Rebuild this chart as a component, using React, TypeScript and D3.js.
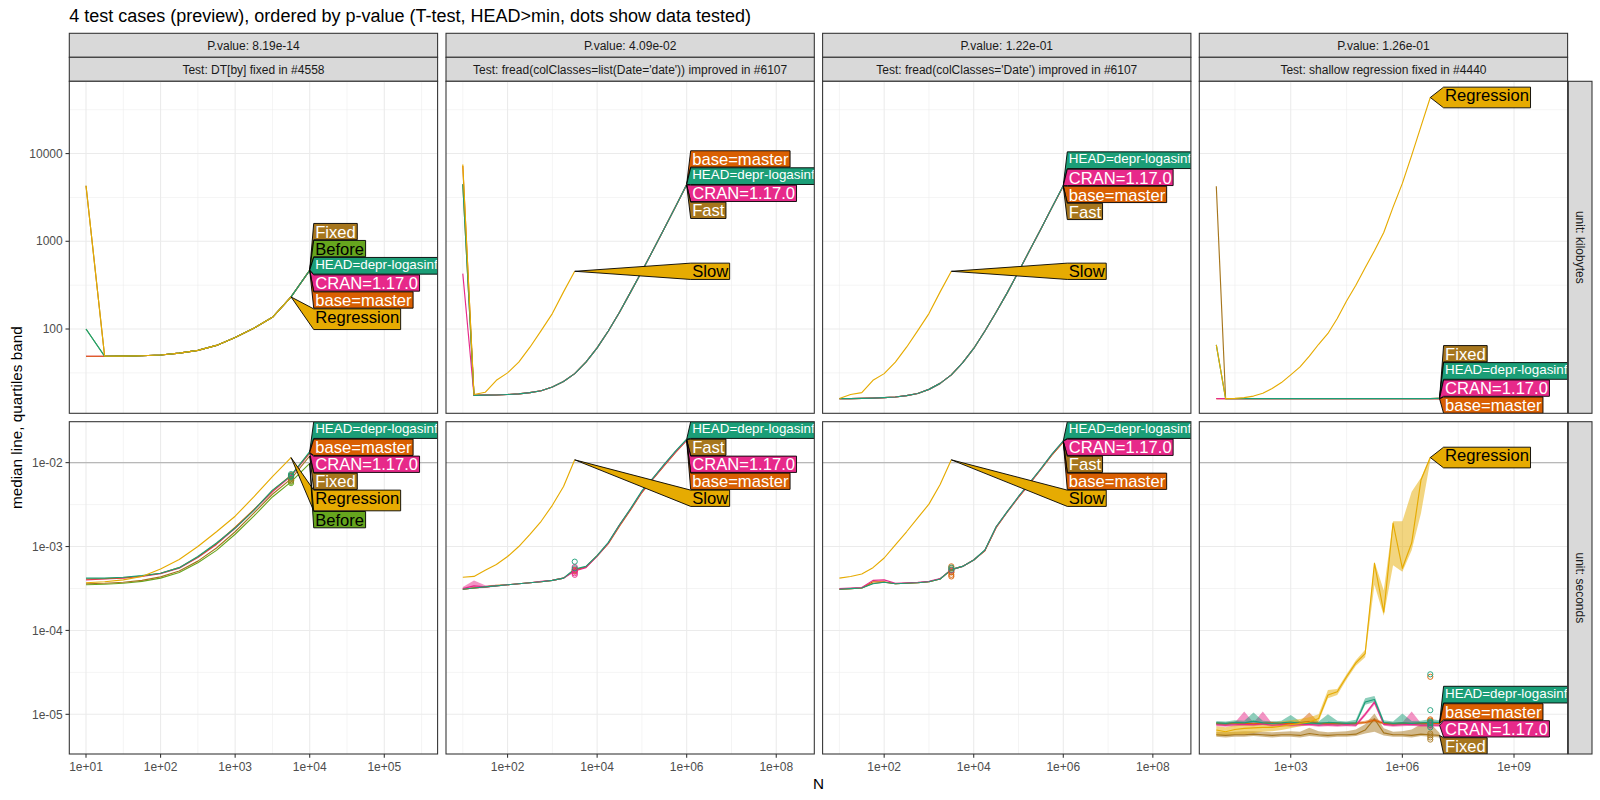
import React, { useMemo } from "react";
import * as d3 from "d3";

const FONT = '"Liberation Sans", Arial, Helvetica, sans-serif';

// ---------- texts / categories ----------
const TITLE = "4 test cases (preview), ordered by p-value (T-test, HEAD>min, dots show data tested)";
const P_VALUES = ["P.value: 8.19e-14", "P.value: 4.09e-02", "P.value: 1.22e-01", "P.value: 1.26e-01"];
const TEST_NAMES = [
  "Test: DT[by] fixed in #4558",
  "Test: fread(colClasses=list(Date='date')) improved in #6107",
  "Test: fread(colClasses='Date') improved in #6107",
  "Test: shallow regression fixed in #4440",
];
const UNITS = ["unit: kilobytes", "unit: seconds"];
const X_LABEL = "N";
const Y_LABEL = "median line, quartiles band";

const LBL_HEAD = "HEAD=depr-logasinf";
const LBL_BASE = "base=master";
const LBL_CRAN = "CRAN=1.17.0";
const LBL_BEFORE = "Before";
const LBL_REGRESSION = "Regression";
const LBL_FIXED = "Fixed";
const LBL_SLOW = "Slow";
const LBL_FAST = "Fast";

const SERIES_COLORS: Record<string, string> = {
  [LBL_HEAD]: "#1B9E77",
  [LBL_BASE]: "#D95F02",
  [LBL_CRAN]: "#E7298A",
  [LBL_BEFORE]: "#66A61E",
  [LBL_REGRESSION]: "#E6AB02",
  [LBL_SLOW]: "#E6AB02",
  [LBL_FIXED]: "#A6761D",
  [LBL_FAST]: "#A6761D",
};
const LABEL_TEXT_COLORS: Record<string, string> = {
  [LBL_HEAD]: "#FFFFFF",
  [LBL_BASE]: "#FFFFFF",
  [LBL_CRAN]: "#FFFFFF",
  [LBL_BEFORE]: "#000000",
  [LBL_REGRESSION]: "#000000",
  [LBL_SLOW]: "#000000",
  [LBL_FIXED]: "#FFFFFF",
  [LBL_FAST]: "#FFFFFF",
};

// ---------- ticks ----------
const X_TICKS = [
  [1e1, 1e2, 1e3, 1e4, 1e5],
  [1e2, 1e4, 1e6, 1e8],
  [1e2, 1e4, 1e6, 1e8],
  [1e3, 1e6, 1e9],
];
const X_TICK_LABELS = [
  ["1e+01", "1e+02", "1e+03", "1e+04", "1e+05"],
  ["1e+02", "1e+04", "1e+06", "1e+08"],
  ["1e+02", "1e+04", "1e+06", "1e+08"],
  ["1e+03", "1e+06", "1e+09"],
];
const Y_TICKS = [
  [100, 1000, 10000],
  [1e-5, 1e-4, 1e-3, 1e-2],
];
const Y_TICK_LABELS = [
  ["100", "1000", "10000"],
  ["1e-05", "1e-04", "1e-03", "1e-02"],
];
const SECONDS_LIMIT = 0.01;

// ---------- data: N grid ----------
const N_VALUES = [
  10, 17.78, 31.62, 56.23, 100, 177.8, 316.2, 562.3, 1000, 1778, 3162, 5623, 10000, 17780, 31620, 56230,
  100000, 177800, 316200, 562300, 1000000, 1778000, 3162000, 5623000, 10000000,
];

// ---------- panel 1 : DT[by] ----------
const P1_KB_CRAN = [48.9, 48.9, 49.0, 49.6, 50.5, 53, 57, 65, 80, 102, 136, 232, 467.0];
const P1_KB_BASE = [48.9, 48.9, 49.0, 49.6, 50.5, 53, 57, 65, 80, 102, 136, 232, 466.5];
const P1_KB_BEFORE = [100, 48.9, 49.0, 49.6, 50.5, 53, 57, 65, 80, 102, 136, 232, 468.0];
const P1_KB_FIXED = [4300, 48.9, 49.0, 49.6, 50.5, 53, 57, 65, 80, 102, 136, 232, 468.5];
const P1_KB_HEAD = [100, 48.9, 49.0, 49.6, 50.5, 53, 57, 65, 80, 102, 136, 232, 467.5];
const P1_KB_REGRESSION = [4300, 48.9, 49.0, 49.6, 50.5, 53, 57, 65, 80, 102, 136, 232];

const P1_SEC_CRAN = [4.0e-4, 4.1e-4, 4.2e-4, 4.4e-4, 4.75e-4, 5.5e-4, 7.4e-4, 1.06e-3, 1.65e-3, 2.7e-3, 4.5e-3, 6.9e-3, 1.3e-2];
const P1_SEC_BASE = [4.1e-4, 4.15e-4, 4.25e-4, 4.45e-4, 4.8e-4, 5.6e-4, 7.5e-4, 1.08e-3, 1.7e-3, 2.75e-3, 4.6e-3, 7.1e-3, 1.32e-2];
const P1_SEC_BEFORE = [3.5e-4, 3.55e-4, 3.65e-4, 3.85e-4, 4.2e-4, 4.9e-4, 6.4e-4, 9.0e-4, 1.4e-3, 2.3e-3, 3.9e-3, 5.9e-3, 9.8e-3];
const P1_SEC_FIXED = [3.6e-4, 3.65e-4, 3.75e-4, 3.95e-4, 4.35e-4, 5.1e-4, 6.7e-4, 9.6e-4, 1.5e-3, 2.5e-3, 4.2e-3, 6.4e-3, 1.2e-2];
const P1_SEC_HEAD = [4.2e-4, 4.2e-4, 4.3e-4, 4.5e-4, 4.8e-4, 5.6e-4, 7.6e-4, 1.1e-3, 1.66e-3, 2.7e-3, 4.7e-3, 7.0e-3, 1.35e-2];
const P1_SEC_REGRESSION = [3.7e-4, 3.8e-4, 4.0e-4, 4.4e-4, 5.4e-4, 7.0e-4, 1.0e-3, 1.5e-3, 2.3e-3, 3.9e-3, 6.8e-3, 1.15e-2];

const P1_DOTS_CRAN = [6.9e-3, 6.6e-3];
const P1_DOTS_BASE = [7.1e-3, 6.9e-3];
const P1_DOTS_BEFORE = [6.1e-3, 5.9e-3, 5.7e-3];
const P1_DOTS_FIXED = [6.4e-3, 6.1e-3];
const P1_DOTS_HEAD = [7.3e-3, 7.0e-3, 6.8e-3];

// ---------- panel 2 : fread list(Date='date') ----------
const P2_KB_FAST = [4470, 17.5, 17.6, 17.7, 17.9, 18.2, 18.8, 19.8, 21.8, 25.2, 31, 42, 61, 95, 155, 265, 455, 795, 1400, 2480, 4360];
const P2_KB_BASE = [7200, 17.5, 17.6, 17.7, 17.9, 18.2, 18.8, 19.8, 21.8, 25.2, 31, 42, 61, 95, 155, 265, 455, 795, 1400, 2480, 4480];
const P2_KB_CRAN = [428, 17.5, 17.6, 17.7, 17.9, 18.2, 18.8, 19.8, 21.8, 25.2, 31, 42, 61, 95, 155, 265, 455, 795, 1400, 2480, 4400];
const P2_KB_HEAD = [4470, 17.5, 17.6, 17.7, 17.9, 18.2, 18.8, 19.8, 21.8, 25.2, 31, 42, 61, 95, 155, 265, 455, 795, 1400, 2480, 4440];
const P2_KB_SLOW = [7500, 17.9, 19, 26, 31.6, 42, 62, 96, 150, 265, 455];

const P2_SEC_FAST = [3.1e-4, 3.2e-4, 3.3e-4, 3.4e-4, 3.5e-4, 3.6e-4, 3.7e-4, 3.8e-4, 3.95e-4, 4.2e-4, 5.3e-4, 5.7e-4, 7.8e-4, 1.1e-3, 1.8e-3, 2.8e-3, 4.5e-3, 6.5e-3, 9.4e-3, 1.35e-2, 1.88e-2];
const P2_SEC_BASE = [3.1e-4, 3.2e-4, 3.3e-4, 3.45e-4, 3.5e-4, 3.6e-4, 3.7e-4, 3.8e-4, 3.95e-4, 4.2e-4, 5.2e-4, 5.7e-4, 7.7e-4, 1.08e-3, 1.75e-3, 2.75e-3, 4.4e-3, 6.4e-3, 9.2e-3, 1.32e-2, 1.84e-2];
const P2_SEC_CRAN = [3.15e-4, 3.4e-4, 3.3e-4, 3.4e-4, 3.5e-4, 3.6e-4, 3.7e-4, 3.85e-4, 3.95e-4, 4.2e-4, 5.1e-4, 5.6e-4, 7.7e-4, 1.1e-3, 1.8e-3, 2.8e-3, 4.5e-3, 6.5e-3, 9.4e-3, 1.34e-2, 1.86e-2];
const P2_SEC_HEAD = [3.1e-4, 3.2e-4, 3.3e-4, 3.4e-4, 3.5e-4, 3.6e-4, 3.7e-4, 3.8e-4, 3.95e-4, 4.2e-4, 5.4e-4, 5.8e-4, 7.8e-4, 1.12e-3, 1.82e-3, 2.85e-3, 4.6e-3, 6.6e-3, 9.6e-3, 1.37e-2, 1.9e-2];
const P2_SEC_SLOW = [4.3e-4, 4.4e-4, 5.2e-4, 6.1e-4, 7.6e-4, 1.0e-3, 1.4e-3, 2.0e-3, 3.1e-3, 5.2e-3, 1.08e-2];
const P2_SEC_CRAN_LO = [3.05e-4, 3.15e-4, 3.2e-4, 3.35e-4];
const P2_SEC_CRAN_HI = [3.3e-4, 3.95e-4, 3.45e-4, 3.5e-4];

const P2_DOTS_FAST = [5.2e-4];
const P2_DOTS_BASE = [5.3e-4, 5.1e-4];
const P2_DOTS_CRAN = [5.7e-4, 5.3e-4, 5.0e-4, 4.8e-4, 4.6e-4];
const P2_DOTS_HEAD = [6.6e-4, 5.5e-4];

// ---------- panel 3 : fread colClasses='Date' ----------
const P3_KB_FAST = [16.1, 16.1, 16.2, 16.3, 16.5, 16.8, 17.4, 18.4, 20.5, 24, 30, 41, 60, 95, 155, 260, 450, 790, 1380, 2450, 4240];
const P3_KB_BASE = [16.1, 16.1, 16.2, 16.3, 16.5, 16.8, 17.4, 18.4, 20.5, 24, 30, 41, 60, 95, 155, 260, 450, 790, 1380, 2450, 4270];
const P3_KB_CRAN = [16.1, 16.1, 16.2, 16.3, 16.5, 16.8, 17.4, 18.4, 20.5, 24, 30, 41, 60, 95, 155, 260, 450, 790, 1380, 2450, 4300];
const P3_KB_HEAD = [16.1, 16.1, 16.2, 16.3, 16.5, 16.8, 17.4, 18.4, 20.5, 24, 30, 41, 60, 95, 155, 260, 450, 790, 1380, 2450, 4330];
const P3_KB_SLOW = [16.1, 17.9, 18.8, 26, 31, 42, 62, 96, 150, 265, 455];

const P3_SEC_FAST = [3.1e-4, 3.15e-4, 3.2e-4, 3.65e-4, 3.75e-4, 3.6e-4, 3.65e-4, 3.7e-4, 3.8e-4, 4.1e-4, 5.3e-4, 5.8e-4, 6.9e-4, 9.0e-4, 1.7e-3, 2.6e-3, 3.9e-3, 5.7e-3, 8.4e-3, 1.25e-2, 1.78e-2];
const P3_SEC_BASE = [3.1e-4, 3.15e-4, 3.2e-4, 3.8e-4, 3.8e-4, 3.6e-4, 3.65e-4, 3.7e-4, 3.8e-4, 4.1e-4, 5.3e-4, 5.8e-4, 6.9e-4, 8.9e-4, 1.68e-3, 2.58e-3, 3.85e-3, 5.6e-3, 8.3e-3, 1.24e-2, 1.76e-2];
const P3_SEC_CRAN = [3.15e-4, 3.2e-4, 3.25e-4, 3.95e-4, 4.0e-4, 3.65e-4, 3.7e-4, 3.75e-4, 3.85e-4, 4.15e-4, 5.3e-4, 5.8e-4, 6.9e-4, 9.0e-4, 1.7e-3, 2.6e-3, 3.9e-3, 5.7e-3, 8.4e-3, 1.26e-2, 1.8e-2];
const P3_SEC_HEAD = [3.1e-4, 3.15e-4, 3.2e-4, 3.6e-4, 3.75e-4, 3.6e-4, 3.65e-4, 3.7e-4, 3.8e-4, 4.1e-4, 5.3e-4, 5.8e-4, 6.9e-4, 9.1e-4, 1.72e-3, 2.62e-3, 3.95e-3, 5.8e-3, 8.5e-3, 1.27e-2, 1.82e-2];
const P3_SEC_SLOW = [4.2e-4, 4.4e-4, 4.7e-4, 5.6e-4, 7.3e-4, 1.05e-3, 1.5e-3, 2.2e-3, 3.2e-3, 5.5e-3, 1.08e-2];

const P3_DOTS_FAST = [5.0e-4];
const P3_DOTS_BASE = [5.8e-4, 5.5e-4, 5.2e-4, 4.9e-4, 4.6e-4, 4.4e-4];
const P3_DOTS_CRAN = [5.2e-4];
const P3_DOTS_HEAD = [5.6e-4, 5.3e-4];

// ---------- panel 4 : shallow regression ----------
const P4_KB_FIXED = [4240, 16.1, 16.1, 16.1, 16.1, 16.1, 16.1, 16.1, 16.1, 16.1, 16.1, 16.1, 16.1, 16.1, 16.1, 16.1, 16.1, 16.1, 16.1, 16.1, 16.1, 16.1, 16.1, 16.1, 16.3];
const P4_KB_BASE = [16.1, 16.1, 16.1, 16.1, 16.1, 16.1, 16.1, 16.1, 16.1, 16.1, 16.1, 16.1, 16.1, 16.1, 16.1, 16.1, 16.1, 16.1, 16.1, 16.1, 16.1, 16.1, 16.1, 16.1, 16.0];
const P4_KB_CRAN = [16.1, 16.1, 16.1, 16.1, 16.1, 16.1, 16.1, 16.1, 16.1, 16.1, 16.1, 16.1, 16.1, 16.1, 16.1, 16.1, 16.1, 16.1, 16.1, 16.1, 16.1, 16.1, 16.1, 16.1, 16.1];
const P4_KB_HEAD = [66, 16.1, 16.1, 16.1, 16.1, 16.1, 16.1, 16.1, 16.1, 16.1, 16.1, 16.1, 16.1, 16.1, 16.1, 16.1, 16.1, 16.1, 16.1, 16.1, 16.1, 16.1, 16.1, 16.1, 16.2];
const P4_KB_REGRESSION = [66, 16.1, 16.2, 16.5, 17.2, 18.5, 21, 24.5, 30, 37, 49, 67, 89, 132, 209, 316, 500, 780, 1260, 2450, 4570, 9550, 20400, 43600];

const P4_SEC_FIXED = [5.7e-6, 5.6e-6, 5.7e-6, 5.7e-6, 5.8e-6, 5.7e-6, 5.6e-6, 5.7e-6, 5.7e-6, 5.6e-6, 5.9e-6, 5.7e-6, 5.6e-6, 5.7e-6, 5.7e-6, 5.8e-6, 6.5e-6, 8.8e-6, 6.0e-6, 5.7e-6, 5.7e-6, 5.6e-6, 5.8e-6, 5.7e-6, 5.6e-6];
const P4_SEC_FIXED_LO = [5.4e-6, 5.3e-6, 5.4e-6, 5.4e-6, 5.5e-6, 5.4e-6, 5.3e-6, 5.4e-6, 5.4e-6, 5.3e-6, 5.5e-6, 5.4e-6, 5.3e-6, 5.4e-6, 5.4e-6, 5.5e-6, 5.9e-6, 6.2e-6, 5.6e-6, 5.4e-6, 5.4e-6, 5.3e-6, 5.5e-6, 5.4e-6, 5.3e-6];
const P4_SEC_FIXED_HI = [6.2e-6, 6.1e-6, 6.2e-6, 6.3e-6, 6.3e-6, 6.2e-6, 6.1e-6, 6.2e-6, 6.3e-6, 6.2e-6, 6.9e-6, 6.3e-6, 6.1e-6, 6.2e-6, 6.3e-6, 6.6e-6, 7.6e-6, 1.02e-5, 6.8e-6, 6.2e-6, 6.3e-6, 6.6e-6, 7.6e-6, 7.8e-6, 6.0e-6];

const P4_SEC_BASE = [7.8e-6, 7.7e-6, 7.9e-6, 7.8e-6, 7.7e-6, 7.8e-6, 7.9e-6, 7.7e-6, 7.8e-6, 7.9e-6, 8.2e-6, 7.8e-6, 7.7e-6, 7.8e-6, 7.7e-6, 7.8e-6, 8.0e-6, 8.5e-6, 7.8e-6, 7.7e-6, 7.8e-6, 7.7e-6, 7.8e-6, 7.8e-6, 7.8e-6];
const P4_SEC_BASE_LO = [7.5e-6, 7.4e-6, 7.6e-6, 7.5e-6, 7.4e-6, 7.5e-6, 7.6e-6, 7.4e-6, 7.5e-6, 7.6e-6, 7.8e-6, 7.5e-6, 7.4e-6, 7.5e-6, 7.4e-6, 7.5e-6, 7.7e-6, 8.1e-6, 7.5e-6, 7.4e-6, 7.5e-6, 7.4e-6, 7.5e-6, 7.5e-6, 7.5e-6];
const P4_SEC_BASE_HI = [8.1e-6, 8.0e-6, 8.2e-6, 8.1e-6, 8.0e-6, 8.1e-6, 8.2e-6, 8.0e-6, 8.1e-6, 8.3e-6, 1.05e-5, 8.1e-6, 8.0e-6, 8.1e-6, 8.0e-6, 8.1e-6, 8.4e-6, 9.0e-6, 8.1e-6, 8.0e-6, 8.1e-6, 8.0e-6, 8.1e-6, 8.1e-6, 8.1e-6];

const P4_SEC_CRAN = [7.5e-6, 7.4e-6, 7.5e-6, 7.6e-6, 7.5e-6, 7.7e-6, 7.4e-6, 7.5e-6, 7.4e-6, 7.5e-6, 7.6e-6, 7.4e-6, 7.5e-6, 7.4e-6, 7.5e-6, 7.4e-6, 1.0e-5, 1.4e-5, 7.6e-6, 7.4e-6, 7.5e-6, 7.6e-6, 7.4e-6, 7.4e-6, 7.4e-6];
const P4_SEC_CRAN_LO = [7.2e-6, 7.1e-6, 7.2e-6, 7.3e-6, 7.2e-6, 7.4e-6, 7.1e-6, 7.2e-6, 7.1e-6, 7.2e-6, 7.3e-6, 7.1e-6, 7.2e-6, 7.1e-6, 7.2e-6, 7.1e-6, 9.5e-6, 1.3e-5, 7.3e-6, 7.1e-6, 7.2e-6, 7.3e-6, 7.1e-6, 7.1e-6, 7.1e-6];
const P4_SEC_CRAN_HI = [7.9e-6, 7.8e-6, 8.0e-6, 1.08e-5, 8.0e-6, 1.08e-5, 7.8e-6, 8.0e-6, 7.9e-6, 8.0e-6, 8.1e-6, 7.8e-6, 8.0e-6, 7.8e-6, 8.0e-6, 7.8e-6, 1.05e-5, 1.45e-5, 8.0e-6, 7.8e-6, 8.0e-6, 1.08e-5, 7.8e-6, 7.8e-6, 7.8e-6];

const P4_SEC_HEAD = [7.9e-6, 7.8e-6, 8.0e-6, 7.9e-6, 8.3e-6, 7.9e-6, 7.8e-6, 7.9e-6, 8.1e-6, 7.8e-6, 7.9e-6, 7.8e-6, 8.0e-6, 7.9e-6, 7.8e-6, 7.9e-6, 1.4e-5, 1.5e-5, 8.0e-6, 7.8e-6, 7.9e-6, 7.8e-6, 7.9e-6, 8.0e-6, 8.0e-6];
const P4_SEC_HEAD_LO = [7.5e-6, 7.4e-6, 7.6e-6, 7.5e-6, 7.8e-6, 7.5e-6, 7.4e-6, 7.5e-6, 7.7e-6, 7.4e-6, 7.5e-6, 7.4e-6, 7.6e-6, 7.5e-6, 7.4e-6, 7.5e-6, 1.3e-5, 1.4e-5, 7.6e-6, 7.4e-6, 7.5e-6, 7.4e-6, 7.5e-6, 7.6e-6, 7.6e-6];
const P4_SEC_HEAD_HI = [8.3e-6, 8.2e-6, 8.5e-6, 8.4e-6, 1.05e-5, 8.4e-6, 8.2e-6, 8.4e-6, 9.8e-6, 8.2e-6, 8.4e-6, 8.2e-6, 1.0e-5, 8.4e-6, 8.2e-6, 8.6e-6, 1.55e-5, 1.65e-5, 8.5e-6, 8.2e-6, 1.02e-5, 8.3e-6, 8.4e-6, 8.8e-6, 8.5e-6];

const P4_SEC_REGRESSION = [6.5e-6, 6.2e-6, 6.6e-6, 6.8e-6, 6.9e-6, 7.0e-6, 7.0e-6, 7.2e-6, 7.5e-6, 7.8e-6, 8.1e-6, 8.9e-6, 1.7e-5, 1.86e-5, 2.8e-5, 4.1e-5, 5.3e-5, 6.3e-4, 1.65e-4, 1.9e-3, 5.5e-4, 1.1e-3, 6.2e-3, 1.15e-2];
const P4_SEC_REGRESSION_LO = [5.6e-6, 5.5e-6, 5.7e-6, 5.8e-6, 6.0e-6, 6.2e-6, 6.3e-6, 6.5e-6, 6.8e-6, 7.2e-6, 7.5e-6, 8.2e-6, 1.55e-5, 1.7e-5, 2.6e-5, 3.8e-5, 4.8e-5, 3.5e-4, 1.5e-4, 6.0e-4, 5.0e-4, 9.0e-4, 2.5e-3, 1.05e-2];
const P4_SEC_REGRESSION_HI = [7.2e-6, 7.0e-6, 7.4e-6, 7.6e-6, 7.8e-6, 7.9e-6, 8.0e-6, 8.2e-6, 8.5e-6, 8.8e-6, 9.2e-6, 1.0e-5, 1.95e-5, 2.0e-5, 3.0e-5, 4.4e-5, 5.9e-5, 6.6e-4, 3.0e-4, 2.0e-3, 2.0e-3, 4.5e-3, 6.6e-3, 1.2e-2];

const P4_DOTS_FIXED = [5.9e-6, 5.6e-6, 5.3e-6, 5.0e-6];
const P4_DOTS_BASE = [2.8e-5, 8.7e-6, 8.4e-6, 7.9e-6];
const P4_DOTS_CRAN = [7.8e-6, 7.5e-6, 7.3e-6];
const P4_DOTS_HEAD = [3.0e-5, 1.12e-5, 8.2e-6, 7.95e-6, 7.8e-6, 7.5e-6, 7.0e-6];

// index into N_VALUES where the dots (data tested) are shown, per panel
const DOT_N_INDEX = [11, 10, 10, 23];

type Series = {
  name: string;
  kb: number[];
  sec: number[];
  lo?: number[];
  hi?: number[];
  dots?: number[];
};

// series listed in drawing order
const PANEL_SERIES: Series[][] = [
  [
    { name: LBL_CRAN, kb: P1_KB_CRAN, sec: P1_SEC_CRAN, dots: P1_DOTS_CRAN },
    { name: LBL_BASE, kb: P1_KB_BASE, sec: P1_SEC_BASE, dots: P1_DOTS_BASE },
    { name: LBL_BEFORE, kb: P1_KB_BEFORE, sec: P1_SEC_BEFORE, dots: P1_DOTS_BEFORE },
    { name: LBL_FIXED, kb: P1_KB_FIXED, sec: P1_SEC_FIXED, dots: P1_DOTS_FIXED },
    { name: LBL_HEAD, kb: P1_KB_HEAD, sec: P1_SEC_HEAD, dots: P1_DOTS_HEAD },
    { name: LBL_REGRESSION, kb: P1_KB_REGRESSION, sec: P1_SEC_REGRESSION },
  ],
  [
    { name: LBL_FAST, kb: P2_KB_FAST, sec: P2_SEC_FAST, dots: P2_DOTS_FAST },
    { name: LBL_BASE, kb: P2_KB_BASE, sec: P2_SEC_BASE, dots: P2_DOTS_BASE },
    { name: LBL_CRAN, kb: P2_KB_CRAN, sec: P2_SEC_CRAN, lo: P2_SEC_CRAN_LO, hi: P2_SEC_CRAN_HI, dots: P2_DOTS_CRAN },
    { name: LBL_HEAD, kb: P2_KB_HEAD, sec: P2_SEC_HEAD, dots: P2_DOTS_HEAD },
    { name: LBL_SLOW, kb: P2_KB_SLOW, sec: P2_SEC_SLOW },
  ],
  [
    { name: LBL_FAST, kb: P3_KB_FAST, sec: P3_SEC_FAST, dots: P3_DOTS_FAST },
    { name: LBL_BASE, kb: P3_KB_BASE, sec: P3_SEC_BASE, dots: P3_DOTS_BASE },
    { name: LBL_CRAN, kb: P3_KB_CRAN, sec: P3_SEC_CRAN, dots: P3_DOTS_CRAN },
    { name: LBL_HEAD, kb: P3_KB_HEAD, sec: P3_SEC_HEAD, dots: P3_DOTS_HEAD },
    { name: LBL_SLOW, kb: P3_KB_SLOW, sec: P3_SEC_SLOW },
  ],
  [
    { name: LBL_FIXED, kb: P4_KB_FIXED, sec: P4_SEC_FIXED, lo: P4_SEC_FIXED_LO, hi: P4_SEC_FIXED_HI, dots: P4_DOTS_FIXED },
    { name: LBL_BASE, kb: P4_KB_BASE, sec: P4_SEC_BASE, lo: P4_SEC_BASE_LO, hi: P4_SEC_BASE_HI, dots: P4_DOTS_BASE },
    { name: LBL_CRAN, kb: P4_KB_CRAN, sec: P4_SEC_CRAN, lo: P4_SEC_CRAN_LO, hi: P4_SEC_CRAN_HI, dots: P4_DOTS_CRAN },
    { name: LBL_HEAD, kb: P4_KB_HEAD, sec: P4_SEC_HEAD, lo: P4_SEC_HEAD_LO, hi: P4_SEC_HEAD_HI, dots: P4_DOTS_HEAD },
    { name: LBL_REGRESSION, kb: P4_KB_REGRESSION, sec: P4_SEC_REGRESSION, lo: P4_SEC_REGRESSION_LO, hi: P4_SEC_REGRESSION_HI },
  ],
];

// ---------- layout ----------
const W = 1600;
const H = 800;
const PANEL_LEFT = [69.3, 446.0, 822.6, 1199.3];
const PANEL_W = 368.3;
const ROW_TOP = [81.3, 421.7];
const ROW_BOTTOM = [413.3, 754.0];
const STRIP_TOP = 33.3;
const STRIP_H = 24;
const RSTRIP_X = 1568.3;
const RSTRIP_W = 23.7;
const X_LOG_DOMAIN = [
  [0.776, 5.715],
  [0.625, 8.85],
  [0.625, 8.85],
  [0.543, 10.44],
];
const Y_LOG_DOMAIN = [
  [1.039, 4.824],
  [-5.473, -1.512],
];
const GRID = "#EBEBEB";
const DARK = "#333333";

function minorLogs(majors: number[], lo: number, hi: number): number[] {
  const l = majors.map((m) => Math.log10(m));
  const step = l[1] - l[0];
  const out: number[] = [];
  for (let v = l[0] - step / 2; v <= l[l.length - 1] + step / 2 + 1e-9; v += step) {
    if (v > lo && v < hi) out.push(v);
  }
  return out;
}

function stackLabels(items: { t: number; h: number }[], top: number, bottom: number, gap: number): number[] {
  const n = items.length;
  if (!n) return [];
  const o: number[] = [0];
  for (let i = 1; i < n; i++) o[i] = o[i - 1] + (items[i - 1].h + items[i].h) / 2 + gap;
  const y = items.map((it, i) => it.t - o[i]);
  const blocks: { sum: number; cnt: number }[] = [];
  for (const v of y) {
    blocks.push({ sum: v, cnt: 1 });
    while (blocks.length > 1) {
      const b = blocks[blocks.length - 1];
      const a = blocks[blocks.length - 2];
      if (a.sum / a.cnt > b.sum / b.cnt) {
        blocks.pop();
        a.sum += b.sum;
        a.cnt += b.cnt;
      } else break;
    }
  }
  const z: number[] = [];
  for (const b of blocks) for (let k = 0; k < b.cnt; k++) z.push(b.sum / b.cnt);
  const zmin = top + items[0].h / 2 - o[0];
  const zmax = bottom - items[n - 1].h / 2 - o[n - 1];
  return z.map((v, i) => Math.min(Math.max(v, zmin), zmax) + o[i]);
}

export default function App() {
  const measure = useMemo(() => {
    const ctx = typeof document !== "undefined" ? document.createElement("canvas").getContext("2d") : null;
    return (s: string, size: number) => {
      if (!ctx) return s.length * size * 0.55;
      ctx.font = `${size}px ${FONT}`;
      return ctx.measureText(s).width;
    };
  }, []);

  const cells: JSX.Element[] = [];

  for (let r = 0; r < 2; r++) {
    for (let c = 0; c < 4; c++) {
      const left = PANEL_LEFT[c];
      const right = left + PANEL_W;
      const top = ROW_TOP[r];
      const bottom = ROW_BOTTOM[r];
      const xd = X_LOG_DOMAIN[c];
      const yd = Y_LOG_DOMAIN[r];
      const x = d3.scaleLog().domain([10 ** xd[0], 10 ** xd[1]]).range([left, right]);
      const y = d3.scaleLog().domain([10 ** yd[0], 10 ** yd[1]]).range([bottom, top]);
      const series = PANEL_SERIES[c];
      const vals = (s: Series) => (r === 0 ? s.kb : s.sec);
      const clipId = `clip-${r}-${c}`;

      const xMinor = minorLogs(X_TICKS[c], xd[0], xd[1]);
      const yMinor = minorLogs(Y_TICKS[r], yd[0], yd[1]);

      const line = d3
        .line<number>()
        .x((_, i) => x(N_VALUES[i]))
        .y((d) => y(d));

      // direct labels (stacked boxes with pointer to the last point)
      const ends = series.map((s) => {
        const v = vals(s);
        const i = v.length - 1;
        return { s, x: x(N_VALUES[i]), y: y(v[i]) };
      });
      const lx = (d3.max(ends, (e) => e.x) as number) + 4;
      const items = ends
        .map((e) => {
          const fs = e.s.name === LBL_HEAD ? 13.4 : 16.6;
          const desc = /[gjpqy]/.test(e.s.name);
          const h = fs * 0.982 + (desc ? fs * 0.265 : 0);
          const w = measure(e.s.name, fs) + 3;
          return { ...e, fs, h, w };
        })
        .sort((a, b) => a.y - b.y);
      const centers = stackLabels(
        items.map((it) => ({ t: it.y, h: it.h })),
        top,
        bottom,
        0.7
      );

      cells.push(
        <g key={`cell-${r}-${c}`}>
          <defs>
            <clipPath id={clipId}>
              <rect x={left} y={top} width={PANEL_W} height={bottom - top} />
            </clipPath>
          </defs>
          <rect x={left} y={top} width={PANEL_W} height={bottom - top} fill="#FFFFFF" />
          {xMinor.map((v, i) => (
            <line key={`xm${i}`} x1={x(10 ** v)} x2={x(10 ** v)} y1={top} y2={bottom} stroke={GRID} strokeWidth={0.55} />
          ))}
          {yMinor.map((v, i) => (
            <line key={`ym${i}`} x1={left} x2={right} y1={y(10 ** v)} y2={y(10 ** v)} stroke={GRID} strokeWidth={0.55} />
          ))}
          {X_TICKS[c].map((t, i) => (
            <line key={`xM${i}`} x1={x(t)} x2={x(t)} y1={top} y2={bottom} stroke={GRID} strokeWidth={1.07} />
          ))}
          {Y_TICKS[r].map((t, i) => (
            <line key={`yM${i}`} x1={left} x2={right} y1={y(t)} y2={y(t)} stroke={GRID} strokeWidth={1.07} />
          ))}
          {r === 1 && (
            <line x1={left} x2={right} y1={y(SECONDS_LIMIT)} y2={y(SECONDS_LIMIT)} stroke="#B8B8B8" strokeWidth={1.2} />
          )}
          <g clipPath={`url(#${clipId})`}>
            {r === 1 &&
              series.map((s, si) => {
                if (!s.lo || !s.hi) return null;
                const lo = s.lo;
                const hi = s.hi;
                const area = d3
                  .area<number>()
                  .x((_, i) => x(N_VALUES[i]))
                  .y0((_, i) => y(lo[i]))
                  .y1((_, i) => y(hi[i]));
                return <path key={`band${si}`} d={area(lo) || ""} fill={SERIES_COLORS[s.name]} fillOpacity={0.5} stroke="none" />;
              })}
            {series.map((s, si) => (
              <path key={`line${si}`} d={line(vals(s)) || ""} fill="none" stroke={SERIES_COLORS[s.name]} strokeWidth={1.15} strokeLinejoin="round" />
            ))}
            {r === 1 &&
              series.map((s, si) =>
                (s.dots || []).map((d, di) => (
                  <circle
                    key={`dot${si}-${di}`}
                    cx={x(N_VALUES[DOT_N_INDEX[c]])}
                    cy={y(d)}
                    r={2.6}
                    fill="none"
                    stroke={SERIES_COLORS[s.name]}
                    strokeWidth={0.9}
                  />
                ))
              )}
            {items.map((it, i) => {
              const ty = centers[i] - it.h / 2;
              const pts = [
                [it.x, it.y],
                [lx, ty],
                [lx + it.w, ty],
                [lx + it.w, ty + it.h],
                [lx, ty + it.h],
              ]
                .map((p) => p.join(","))
                .join(" ");
              return (
                <g key={`lab${i}`}>
                  <polygon points={pts} fill={SERIES_COLORS[it.s.name]} stroke="#000000" strokeWidth={0.9} strokeLinejoin="miter" />
                  <text x={lx + 1.5} y={ty + it.fs * 0.86} fontSize={it.fs} fill={LABEL_TEXT_COLORS[it.s.name]}>
                    {it.s.name}
                  </text>
                </g>
              );
            })}
          </g>
          <rect x={left} y={top} width={PANEL_W} height={bottom - top} fill="none" stroke={DARK} strokeWidth={1.07} />
          {c === 0 &&
            Y_TICKS[r].map((t, i) => (
              <g key={`yt${i}`}>
                <line x1={left - 3.8} x2={left} y1={y(t)} y2={y(t)} stroke={DARK} strokeWidth={1.07} />
                <text x={left - 6.6} y={y(t)} dy="0.35em" textAnchor="end" fontSize={12} fill="#4D4D4D">
                  {Y_TICK_LABELS[r][i]}
                </text>
              </g>
            ))}
          {r === 1 &&
            X_TICKS[c].map((t, i) => (
              <g key={`xt${i}`}>
                <line x1={x(t)} x2={x(t)} y1={bottom} y2={bottom + 3.8} stroke={DARK} strokeWidth={1.07} />
                <text x={x(t)} y={bottom + 17} textAnchor="middle" fontSize={12} fill="#4D4D4D">
                  {X_TICK_LABELS[c][i]}
                </text>
              </g>
            ))}
        </g>
      );
    }
  }

  const midY = (ROW_TOP[0] + ROW_BOTTOM[1]) / 2;

  return (
    <svg
      width={W}
      height={H}
      viewBox={`0 0 ${W} ${H}`}
      style={{ position: "absolute", left: 0, top: 0 }}
      fontFamily={FONT}
    >
      <rect x={0} y={0} width={W} height={H} fill="#FFFFFF" />
      <text x={69.3} y={21.5} fontSize={18} fill="#000000">
        {TITLE}
      </text>
      {PANEL_LEFT.map((left, c) => (
        <g key={`strip${c}`}>
          <rect x={left} y={STRIP_TOP} width={PANEL_W} height={STRIP_H} fill="#D9D9D9" stroke={DARK} strokeWidth={1.07} />
          <text x={left + PANEL_W / 2} y={STRIP_TOP + STRIP_H / 2} dy="0.35em" textAnchor="middle" fontSize={12} fill="#1A1A1A">
            {P_VALUES[c]}
          </text>
          <rect x={left} y={STRIP_TOP + STRIP_H} width={PANEL_W} height={STRIP_H} fill="#D9D9D9" stroke={DARK} strokeWidth={1.07} />
          <text x={left + PANEL_W / 2} y={STRIP_TOP + STRIP_H * 1.5} dy="0.35em" textAnchor="middle" fontSize={12} fill="#1A1A1A">
            {TEST_NAMES[c]}
          </text>
        </g>
      ))}
      {UNITS.map((u, r) => {
        const cy = (ROW_TOP[r] + ROW_BOTTOM[r]) / 2;
        const cx = RSTRIP_X + RSTRIP_W / 2;
        return (
          <g key={`rstrip${r}`}>
            <rect x={RSTRIP_X} y={ROW_TOP[r]} width={RSTRIP_W} height={ROW_BOTTOM[r] - ROW_TOP[r]} fill="#D9D9D9" stroke={DARK} strokeWidth={1.07} />
            <text x={cx} y={cy} dy="0.35em" textAnchor="middle" fontSize={12} fill="#1A1A1A" transform={`rotate(90, ${cx}, ${cy})`}>
              {u}
            </text>
          </g>
        );
      })}
      {cells}
      <text x={(PANEL_LEFT[0] + PANEL_LEFT[3] + PANEL_W) / 2} y={789} textAnchor="middle" fontSize={15.3} fill="#000000">
        {X_LABEL}
      </text>
      <text x={22} y={midY} textAnchor="middle" fontSize={15.3} fill="#000000" transform={`rotate(-90, 22, ${midY})`}>
        {Y_LABEL}
      </text>
    </svg>
  );
}
